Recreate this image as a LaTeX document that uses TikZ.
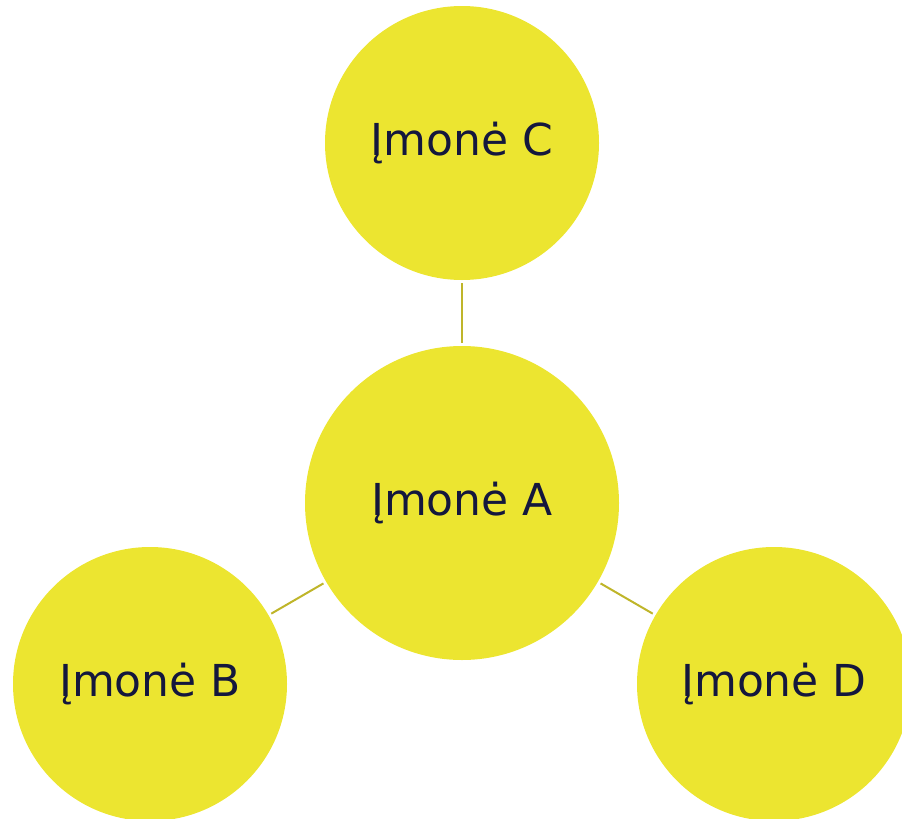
\documentclass[tikz,border=0pt]{standalone}
\usepackage{fontspec}
\setmainfont{DejaVu Sans}
\definecolor{bubble}{HTML}{ECE530}
\definecolor{ink}{HTML}{14173D}
\definecolor{link}{HTML}{BFB52A}
\begin{document}
\begin{tikzpicture}[x=1pt,y=-1pt]
\tikzset{
  bub/.style={circle, fill=bubble, draw=none, inner sep=0pt, text=ink,
    font=\fontsize{44}{52}\selectfont},
  big/.style={bub, minimum size=314pt},
  small/.style={bub, minimum size=274pt},
  conn/.style={draw=link, line width=2pt, shorten <=3pt, shorten >=3pt}
}
\useasboundingbox (0,0) rectangle (902,819);
\node[big] (A) at (462,503) {Įmonė A};
\node[small] (C) at (462,143) {Įmonė C};
\node[small] (B) at (150,684) {Įmonė B};
\node[small] (D) at (774,684) {Įmonė D};
\draw[conn] (A) -- (C);
\draw[conn] (A) -- (B);
\draw[conn] (A) -- (D);
\end{tikzpicture}
\end{document}
